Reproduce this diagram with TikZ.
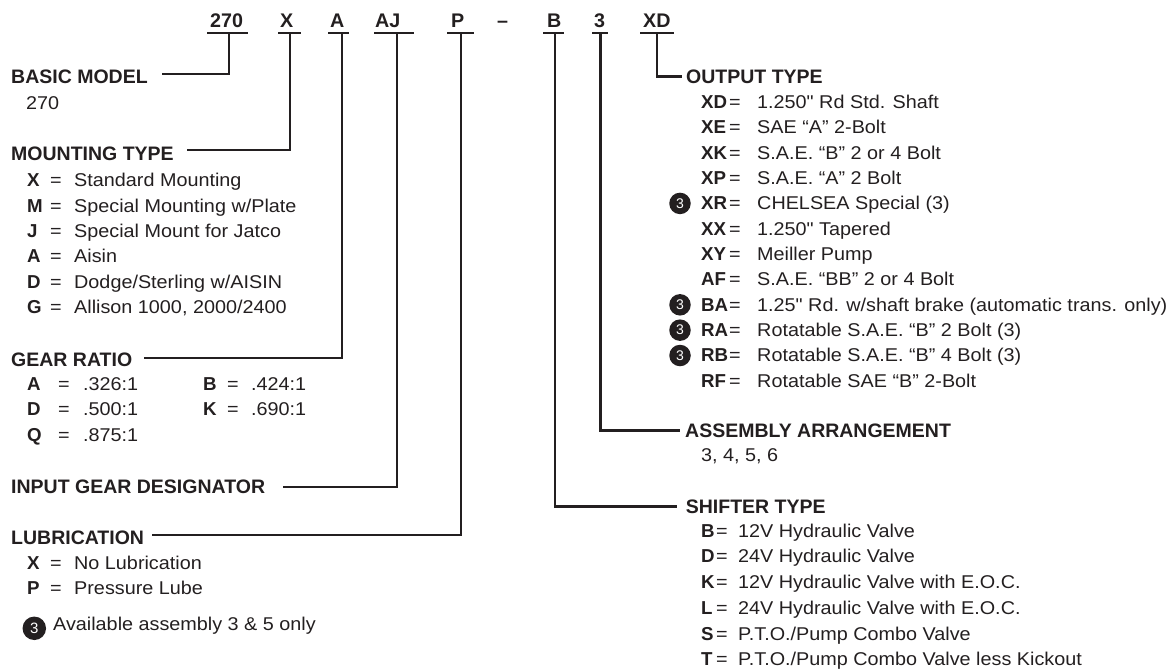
\documentclass[tikz,border=0pt]{standalone}
\usepackage{fontspec}
\setmainfont{Liberation Sans}
\newfontfamily\bodyf{Liberation Sans}[FakeStretch=1.07]
\definecolor{ink}{RGB}{35,31,32}
\tikzset{
 hdr/.style={anchor=base west, inner sep=0pt, font=\fontsize{19.5}{20}\selectfont\bfseries, text=ink},
 code/.style={anchor=base west, inner sep=0pt, font=\fontsize{19.7}{20}\selectfont\bfseries, text=ink},
 txt/.style={anchor=base west, inner sep=0pt, font=\bodyf\fontsize{18.5}{20}\selectfont, text=ink},
 key/.style={anchor=base west, inner sep=0pt, font=\fontsize{18.7}{20}\selectfont\bfseries, text=ink},
 ln/.style={line width=2.8pt, draw=ink, line join=miter},
 num/.style={circle, fill=ink, inner sep=0pt, minimum size=21.5pt, text=white, font=\fontsize{14}{14}\selectfont},
}
\begin{document}
\begin{tikzpicture}[x=1pt,y=-1pt]
\useasboundingbox (0,0) rectangle (1173,670);
% ---------- top code ----------
\node[code] (c270) at (210,27) {270};
\node[code] (cX)   at (280,27) {X};
\node[code] (cA)   at (330,27) {A};
\node[code] (cAJ)  at (375,27) {AJ};
\node[code] (cP)   at (451,27) {P};
\node[code] (cdash) at (497,27) {--};
\node[code] (cB)   at (547,27) {B};
\node[code] (c3)   at (594,27) {3};
\node[code] (cXD)  at (643,27) {XD};
% bars and stem tops
\foreach \n/\a/\b/\s in {270/207/248/229, X/278/301/290, A/328/349/342, AJ/374/414/397, P/447/474/461, B/543/564/555, 3/592/608/600.7, XD/640/674/657}{
  \coordinate (bl\n) at (\a,33);
  \coordinate (br\n) at (\b,33);
  \coordinate (s\n) at (\s,33);
  \draw[ln] (bl\n) -- (br\n);
}
% ---------- left column ----------
\node[hdr] (basic) at (11,83) {BASIC MODEL};
\node[txt] (basicv) at (26,109.3) {270};
\coordinate (ebasic) at (162,74);
\draw[ln] (ebasic) -| (s270);

\node[hdr] (mount) at (11,160) {MOUNTING TYPE};
\coordinate (emount) at (187,150);
\draw[ln] (emount) -| (sX);
\foreach \k/\c/\d in {0/X/{Standard Mounting}, 1/M/{Special Mounting w/Plate}, 2/J/{Special Mount for Jatco}, 3/A/{Aisin}, 4/D/{Dodge/Sterling w/AISIN}, 5/G/{Allison 1000, 2000/2400}}{
  \node[key] (mk\k) at (27,186.6+25.4*\k) {\c};
  \node[txt] (me\k) at (50,186.6+25.4*\k) {=};
  \node[txt] (md\k) at (74,186.6+25.4*\k) {\d};
}

\node[hdr] (gear) at (11,366) {GEAR RATIO};
\coordinate (egear) at (144,358);
\draw[ln] (egear) -| (sA);
\foreach \k/\c/\d in {0/A/.326:1, 1/D/.500:1, 2/Q/.875:1}{
  \node[key] (gk\k) at (27,390+25.8*\k) {\c};
  \node[txt] (ge\k) at (58,390+25.8*\k) {=};
  \node[txt] (gd\k) at (83,390+25.8*\k) {\d};
}
\foreach \k/\c/\d in {0/B/.424:1, 1/K/.690:1}{
  \node[key] (hk\k) at (203,390+25.8*\k) {\c};
  \node[txt] (he\k) at (227,390+25.8*\k) {=};
  \node[txt] (hd\k) at (251,390+25.8*\k) {\d};
}

\node[hdr] (input) at (11,493.3) {INPUT GEAR DESIGNATOR};
\coordinate (einput) at (283,487);
\draw[ln] (einput) -| (sAJ);

\node[hdr] (lub) at (11,544.3) {LUBRICATION};
\coordinate (elub) at (152,535);
\draw[ln] (elub) -| (sP);
\foreach \k/\c/\d in {0/X/{No Lubrication}, 1/P/{Pressure Lube}}{
  \node[key] (lk\k) at (27,569.3+25.6*\k) {\c};
  \node[txt] (le\k) at (50,569.3+25.6*\k) {=};
  \node[txt] (ld\k) at (74,569.3+25.6*\k) {\d};
}
\node[num, minimum size=23.5pt, font=\fontsize{15}{15}\selectfont] (note) at (34.3,628.3) {3};
\node[txt] (notet) at (53,630) {Available assembly 3 \& 5 only};

% ---------- right column ----------
\node[hdr] (out) at (686,83) {OUTPUT TYPE};
\coordinate (eout) at (682,76.7);
\draw[ln] (sXD) |- (eout);
\foreach \k/\c/\d in {0/XD/{1.250" Rd Std. Shaft}, 1/XE/{SAE “A” 2-Bolt}, 2/XK/{S.A.E. “B” 2 or 4 Bolt}, 3/XP/{S.A.E. “A” 2 Bolt}, 4/XR/{CHELSEA Special (3)}, 5/XX/{1.250" Tapered}, 6/XY/{Meiller Pump}, 7/AF/{S.A.E. “BB” 2 or 4 Bolt}, 8/BA/{1.25" Rd. w/shaft brake (automatic trans. only)}, 9/RA/{Rotatable S.A.E. “B” 2 Bolt (3)}, 10/RB/{Rotatable S.A.E. “B” 4 Bolt (3)}, 11/RF/{Rotatable SAE “B” 2-Bolt}}{
  \node[key] (ok\k) at (701,108.3+25.35*\k) {\c};
  \node[txt] (oe\k) at (729,108.3+25.35*\k) {=};
  \node[txt] (od\k) at (757,108.3+25.35*\k) {\d};
}
\foreach \k in {4,8,9,10}{
  \node[num] (on\k) at (680,108.3+25.35*\k-6.3) {3};
}

\node[hdr] (asm) at (685,437) {ASSEMBLY ARRANGEMENT};
\node[txt] (asmv) at (701,461.7) {3, 4, 5, 6};
\coordinate (easm) at (680,430.7);
\draw[ln] (s3) |- (easm);

\node[hdr] (shift) at (685.7,513) {SHIFTER TYPE};
\coordinate (eshift) at (677,506.7);
\draw[ln] (sB) |- (eshift);
\foreach \k/\c/\d in {0/B/{12V Hydraulic Valve}, 1/D/{24V Hydraulic Valve}, 2/K/{12V Hydraulic Valve with E.O.C.}, 3/L/{24V Hydraulic Valve with E.O.C.}, 4/S/{P.T.O./Pump Combo Valve}, 5/T/{P.T.O./Pump Combo Valve less Kickout}}{
  \node[key] (sk\k) at (701,537+25.75*\k) {\c};
  \node[txt] (se\k) at (716,537+25.75*\k) {=};
  \node[txt] (sd\k) at (738,537+25.75*\k) {\d};
}
\end{tikzpicture}
\end{document}
